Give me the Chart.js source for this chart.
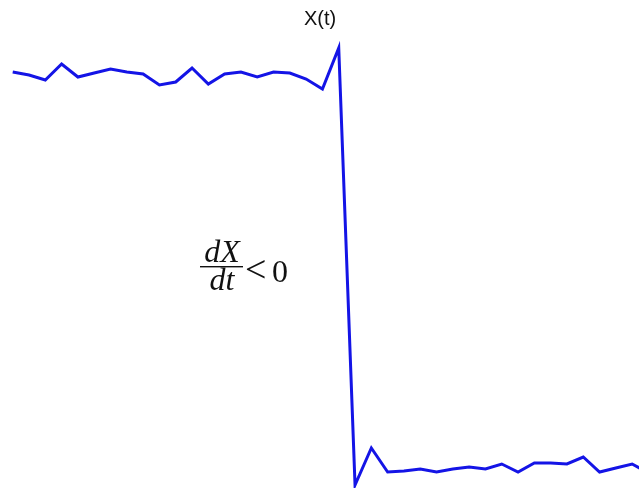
<!DOCTYPE html>
<html>
<head>
<meta charset="utf-8">
<script src="https://cdn.jsdelivr.net/npm/chart.js@4.4.1/dist/chart.umd.min.js"></script>
<style>
    html, body { margin: 0; padding: 0; background: #ffffff; }
    #wrap { width: 639px; height: 488px; position: relative; }
</style>
</head>
<body>
<div id="wrap"><canvas id="stepChart"></canvas></div>
<script>
// sample index (time) and the signal X(t)
const timeSteps = [0, 1, 2, 3, 4, 5, 6, 7, 8, 9,
                   10, 11, 12, 13, 14, 15, 16, 17, 18, 19,
                   20, 21, 22, 23, 24, 25, 26, 27, 28, 29,
                   30, 31, 32, 33, 34, 35, 36, 37, 38, 39];
const signalX = [0.97, 0.955, 0.93, 1.01, 0.945, 0.965, 0.985, 0.97, 0.96, 0.905,
                 0.92, 0.99, 0.91, 0.96, 0.97, 0.945, 0.97, 0.965, 0.935, 0.885,
                 1.09, -1.095, -0.91, -1.03, -1.025, -1.015, -1.03, -1.015, -1.005, -1.015,
                 -0.99, -1.03, -0.985, -0.985, -0.99, -0.955, -1.03, -1.01, -0.99, -1.035];
const titleText = 'X(t)';

const points = timeSteps.map((t, i) => ({ x: t, y: signalX[i] }));

/**
 * Draws the title and the dX/dt < 0 note on top of the line.
 */
const notesPlugin = {
    id: 'notes',
    afterDraw(chart) {
        const ctx = chart.ctx;
        ctx.save();
        ctx.fillStyle = '#111111';

        // title
        ctx.font = '20px "Liberation Sans", Arial, sans-serif';
        ctx.textAlign = 'center';
        ctx.textBaseline = 'alphabetic';
        ctx.fillText(titleText, 320, 25);

        // fraction dX / dt
        ctx.font = 'italic 32px "Liberation Serif", "DejaVu Serif", serif';
        ctx.fillText('dX', 222, 262);
        ctx.fillText('dt', 222, 290);
        ctx.fillRect(200, 266, 43, 1.4);

        // < 0
        ctx.textAlign = 'left';
        ctx.font = '38px "Liberation Serif", "DejaVu Serif", serif';
        ctx.fillText('<', 245, 282);
        ctx.font = '32px "Liberation Serif", "DejaVu Serif", serif';
        ctx.fillText('0', 272, 282);
        ctx.restore();
    }
};

new Chart(document.getElementById('stepChart').getContext('2d'), {
    type: 'line',
    data: {
        datasets: [{
            data: points,
            borderColor: 'rgb(20, 20, 230)',
            borderWidth: 3,
            pointRadius: 0,
            tension: 0,
            fill: false
        }]
    },
    options: {
        responsive: true,
        maintainAspectRatio: false,
        animation: false,
        layout: { padding: 0 },
        scales: {
            x: { type: 'linear', display: false, min: -0.78, max: 38.42 },
            y: { display: false, min: -1.11, max: 1.33 }
        },
        plugins: {
            legend: { display: false },
            tooltip: { enabled: false }
        }
    },
    plugins: [notesPlugin]
});
</script>
</body>
</html>
